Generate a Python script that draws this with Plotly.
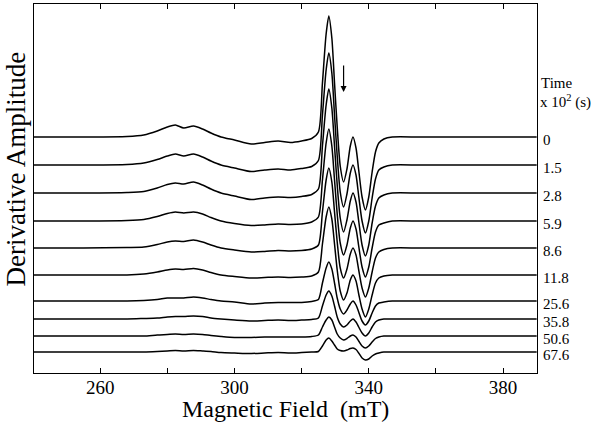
import plotly.graph_objects as go

# Magnetic field grid (mT)
field = [240, 255, 268, 273, 277, 280, 282.4, 284.9, 287.8, 290.5, 293, 296, 300, 305, 309, 313, 316.7, 320, 323,
         325, 326.2, 327.3, 328.1, 329, 329.8, 330.6, 331.5, 332.5, 333.5, 334.5, 335.3, 336.2, 337, 338, 339, 340,
         341, 342, 343, 344.5, 347,
         355, 365, 375, 390]

time_labels = ["0", "1.5", "2.8", "5.9", "8.6", "11.8", "25.6", "35.8", "50.6", "67.6"]

# vertical stacking offset of each spectrum (arbitrary units)
trace_offsets = [236, 208, 180, 152, 125, 98, 72, 54, 37, 21]

t0 = [0, 0, 0.5, 2, 6, 10, 12, 9, 11, 8, 4, 0, -3, -7, -5.5, -4, -5.5, -4, -1.5,
      5, 54, 103, 121, 99, 54, 10, -29, -45, -32, -9, 0, -11, -33, -60, -73, -60, -35, -15, -6, -2, 0,
      0, 0, 0, 0]
t1_5 = [0, 0, 0.5, 2, 5.5, 9, 11, 9, 11, 8, 4, 0, -3, -6.5, -5, -4, -5, -3.5, -1.5,
        4.5, 50, 95, 112, 92, 50, 9, -27, -42, -29, -8, 0, -10, -31, -56, -68, -56, -33, -14, -5, -2, 0,
        0, 0, 0, 0]
t2_8 = [0, 0, 0.5, 1.5, 5, 8.5, 10, 9, 11, 8, 4, 0, -3, -6.5, -5, -4, -4.5, -3.5, -1.5,
        4, 47, 88, 104, 85, 47, 8, -25, -39, -27, -8, 0, -9, -28, -52, -63, -52, -30, -13, -5, -2, 0,
        0, 0, 0, 0]
t5_9 = [0, 0, 0.5, 1.5, 4.5, 7.5, 9, 8, 9, 7, 3.5, 0, -2.5, -4.5, -4, -3, -3.5, -3, -1,
        4, 41, 78, 92, 75, 41, 7, -22, -34, -24, -7, 0, -8, -25, -46, -56, -46, -27, -11, -4, -2, 0,
        0, 0, 0, 0]
t8_6 = [0, 0, 0.5, 1, 3.5, 6, 7, 6.5, 8, 6, 3, 0, -2, -4, -3.5, -2.5, -3, -2.5, -1,
        3, 36, 68, 80, 66, 36, 6, -20, -30, -21, -6, 0, -7, -22, -40, -49, -40, -24, -10, -4, -1.5, 0,
        0, 0, 0, 0]
t11_8 = [0, 0, 0, 1, 3, 5, 6, 5.5, 6.5, 5, 2.5, 0, -1.5, -3, -2.5, -2, -2.5, -2, -1,
         3, 31, 58, 68, 56, 31, 5, -16, -25, -18, -5, 0, -6, -19, -34, -42, -34, -20, -8, -3, -1, 0,
         0, 0, 0, 0]
t25_6 = [0, 0, 0, 0.5, 1.5, 3, 3, 3, 4, 3, 1.5, 0, -1, -3, -2, -1.5, -1.5, -1.5, -0.5,
         1.5, 18, 33, 39, 32, 18, 3, -8, -13, -9, -3, 0, -4, -11, -20, -24, -20, -12, -5, -2, -1, 0,
         0, 0, 0, 0]
t35_8 = [0, 0, 0, 0.5, 1, 2, 2.5, 2.5, 3, 2.5, 1, 0, -1, -2, -1.5, -1, -1.5, -1, -0.5,
         1, 13, 24, 28, 23, 13, 2, -5, -8, -6, -2, 0, -3, -8, -14, -17, -14, -8, -3, -1, 0, 0,
         0, 0, 0, 0]
t50_6 = [0, 0, 0, 0, 1, 1.5, 2, 1.5, 2, 1.5, 0.5, -0.5, -1.5, -1.5, -1, -1, -1, -1, -0.5,
         1, 9, 16, 19, 16, 9, 2, -2, -4, -2.5, 0, 1, -1, -5, -10, -12, -10, -6, -2.5, -1, 0, 0,
         0, 0, 0, 0]
t67_6 = [0, 0, 0, 0, 0.5, 1, 1.5, 1, 1.5, 1, 0.5, -0.5, -1, -1.5, -1, -0.5, -1, -0.5, 0,
         0.5, 6, 12, 14, 11, 7, 3, 1.5, 1, 2, 3.5, 4, 2.5, -1, -6, -8, -7, -4, -2, -1, 0, 0,
         0, 0, 0, 0]

spectra = [t0, t1_5, t2_8, t5_9, t8_6, t11_8, t25_6, t35_8, t50_6, t67_6]

FONT = "Liberation Serif, Times New Roman, serif"

fig = go.Figure()
for lab, off, s in zip(time_labels, trace_offsets, spectra):
    fig.add_trace(go.Scatter(
        x=field, y=[off + v for v in s], mode="lines",
        line=dict(color="black", width=1.5, shape="spline", smoothing=0.7),
        showlegend=False, name=lab, hoverinfo="skip"))
    fig.add_annotation(x=1, xref="paper", y=off, yref="y", text=lab, showarrow=False,
                       xanchor="left", yanchor="middle", xshift=4, yshift=-3,
                       font=dict(family=FONT, size=15, color="black"))

fig.add_annotation(x=1, xref="paper", y=290, yref="y", text="Time", showarrow=False,
                   xanchor="left", yanchor="middle", xshift=2,
                   font=dict(family=FONT, size=15, color="black"))
fig.add_annotation(x=1, xref="paper", y=272, yref="y", text="x 10<sup>2</sup> (s)", showarrow=False,
                   xanchor="left", yanchor="middle", xshift=1,
                   font=dict(family=FONT, size=15, color="black"))

# axis titles
fig.add_annotation(x=0.5, xref="paper", y=0, yref="paper", text="Magnetic Field  (mT)", showarrow=False,
                   xanchor="center", yanchor="top", yshift=-21,
                   font=dict(family=FONT, size=24, color="black"))
fig.add_annotation(x=0, xref="paper", y=0.5, yref="paper", text="Derivative Amplitude", showarrow=False,
                   xanchor="center", yanchor="middle", xshift=-19, yshift=19, textangle=-90,
                   font=dict(family=FONT, size=27, color="black"))

# arrow marking the decaying signal
fig.add_annotation(x=332.5, y=281, xref="x", yref="y", ax=332.5, ay=309, axref="x", ayref="y",
                   text="", showarrow=True, arrowhead=2, arrowsize=1, arrowwidth=1.2, arrowcolor="black")

fig.update_xaxes(range=[240.3, 390.1], tickvals=[260, 280, 300, 320, 340, 360, 380],
                 ticktext=["260", "", "300", "", "340", "", "380"], automargin=False,
                 ticks="inside", ticklen=5, tickcolor="black", mirror="ticks", ticklabelstandoff=-3,
                 showline=True, linecolor="black", linewidth=1.2, showgrid=False, zeroline=False,
                 tickfont=dict(family=FONT, size=19, color="black"))
fig.update_yaxes(range=[0, 369], showticklabels=False, ticks="", showline=True, mirror=True,
                 automargin=False, linecolor="black", linewidth=1.2, showgrid=False, zeroline=False)

fig.update_layout(width=601, height=425, margin=dict(l=34, r=64, t=4, b=52, autoexpand=False),
                  plot_bgcolor="white", paper_bgcolor="white")

fig.write_html("out.html", config={"displayModeBar": False},
               post_script="document.body.style.margin='0px';document.body.style.overflow='hidden';")
